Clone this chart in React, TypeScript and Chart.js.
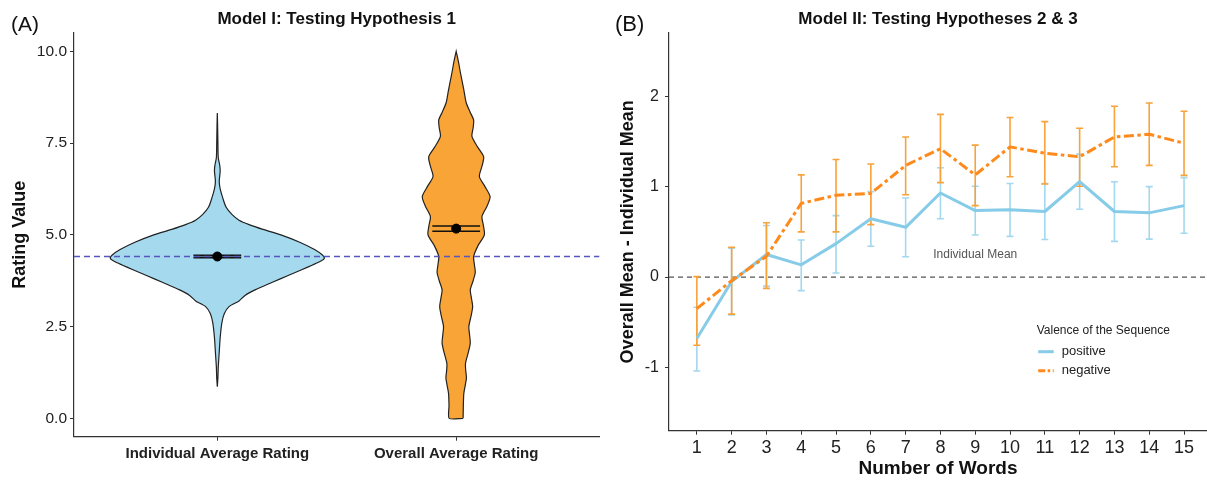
import React, { useEffect, useRef } from "react";
import { Chart, registerables } from "chart.js";

Chart.register(...registerables);

const FONT = "'Liberation Sans', Arial, Helvetica, sans-serif";
Chart.defaults.font.family = FONT;

// ---------------- Panel A data ----------------
const violinCategories = ["Individual Average Rating", "Overall Average Rating"];
const ratingTicks = [0, 2.5, 5, 7.5, 10];

const individualViolinY = [
  0.86, 1.1, 1.4, 1.8, 2.2, 2.6, 2.85, 3.05, 3.2, 3.35, 3.5, 3.7, 3.9, 4.05, 4.18,
  4.28, 4.36, 4.45, 4.6, 4.8, 5.0, 5.15, 5.28, 5.4, 5.55, 5.75, 6.0, 6.25, 6.45,
  6.6, 6.75, 6.9, 7.1, 7.5, 8.0, 8.32,
];
const individualViolinHalfWidth = [
  0, 0.0025, 0.004, 0.008, 0.012, 0.019, 0.029, 0.05, 0.091, 0.116, 0.158, 0.228,
  0.299, 0.353, 0.399, 0.432, 0.448, 0.44, 0.407, 0.345, 0.266, 0.191, 0.133, 0.091,
  0.062, 0.037, 0.023, 0.012, 0.008, 0.01, 0.012, 0.01, 0.004, 0.0025, 0.0012, 0,
];

const overallViolinY = [
  0.0, 0.35, 0.68, 0.9, 1.1, 1.3, 1.5, 1.78, 2.05, 2.28, 2.5, 2.78, 3.04, 3.27, 3.5,
  3.75, 3.98, 4.2, 4.41, 4.7, 5.0, 5.25, 5.5, 5.78, 6.04, 6.32, 6.59, 6.87, 7.13,
  7.42, 7.68, 7.92, 8.13, 8.35, 8.6, 8.95, 9.41, 9.7, 10.0,
];
const overallViolinHalfWidth = [
  0.029, 0.03, 0.032, 0.038, 0.043, 0.04, 0.039, 0.05, 0.059, 0.056, 0.053, 0.062,
  0.069, 0.064, 0.059, 0.071, 0.08, 0.076, 0.073, 0.091, 0.118, 0.114, 0.108, 0.129,
  0.142, 0.12, 0.097, 0.108, 0.115, 0.087, 0.066, 0.071, 0.073, 0.058, 0.042, 0.032,
  0.018, 0.01, 0,
];

const ratingMeans = [4.41, 5.17];
const ratingCiLow = [4.38, 5.1];
const ratingCiHigh = [4.44, 5.24];
const individualMeanRating = 4.41;

// ---------------- Panel B data ----------------
const wordCounts = [1, 2, 3, 4, 5, 6, 7, 8, 9, 10, 11, 12, 13, 14, 15];
const differenceTicks = [-1, 0, 1, 2];
const referenceDifference = 0;

const positiveMeans = [-0.68, -0.05, 0.25, 0.135, 0.37, 0.645, 0.55, 0.93, 0.735, 0.745, 0.725, 1.055, 0.725, 0.71, 0.79];
const positiveHigh = [-0.335, 0.32, 0.57, 0.41, 0.68, 0.945, 0.875, 1.21, 1.005, 1.035, 1.035, 1.36, 1.055, 1.0, 1.1];
const positiveLow = [-1.04, -0.42, -0.1, -0.15, 0.045, 0.34, 0.225, 0.645, 0.465, 0.45, 0.415, 0.75, 0.395, 0.42, 0.485];

const negativeMeans = [-0.35, -0.04, 0.23, 0.815, 0.905, 0.925, 1.235, 1.42, 1.13, 1.44, 1.37, 1.33, 1.55, 1.58, 1.48];
const negativeHigh = [0.005, 0.33, 0.6, 1.13, 1.3, 1.25, 1.55, 1.8, 1.46, 1.765, 1.72, 1.647, 1.89, 1.925, 1.835];
const negativeLow = [-0.755, -0.41, -0.125, 0.5, 0.5, 0.58, 0.91, 1.045, 0.79, 1.11, 1.03, 1.005, 1.22, 1.235, 1.125];

// ---------------- styles ----------------
const BLUE_FILL = "#A5D9EE";
const ORANGE_FILL = "#F8A436";
const BLUE_LINE = "#86CBE8";
const ORANGE_LINE = "#FF8A1C";
const BLUE_ERR = "#A3D8EE";
const ORANGE_ERR = "#F8A23A";
const NEG_DASH = [10, 3.5, 3.5, 3.5];

type Pt = { x: number; y: number | null };

function violinOutline(center: number, ys: number[], hw: number[]): Pt[] {
  const right = ys.map((y, i) => ({ x: center + hw[i], y }));
  const left = ys.map((y, i) => ({ x: center - hw[i], y })).reverse();
  const pts = [...right, ...left];
  pts.push({ ...pts[0] });
  return pts;
}

function errorBars(xs: number[], lo: number[], hi: number[], halfCap: number): Pt[] {
  const pts: Pt[] = [];
  xs.forEach((x, i) => {
    pts.push({ x, y: lo[i] }, { x, y: hi[i] }, { x, y: null });
    pts.push({ x: x - halfCap, y: hi[i] }, { x: x + halfCap, y: hi[i] }, { x, y: null });
    pts.push({ x: x - halfCap, y: lo[i] }, { x: x + halfCap, y: lo[i] }, { x, y: null });
  });
  return pts;
}

function buildChartA(): any {
  const xMin = 0.4;
  const xMax = 2.6;
  const annotations = {
    id: "panelAText",
    afterDraw(chart: any) {
      const { ctx, chartArea } = chart;
      ctx.save();
      ctx.fillStyle = "#111";
      ctx.textBaseline = "middle";
      ctx.textAlign = "left";
      ctx.font = `21px ${FONT}`;
      ctx.fillText("(A)", 11, 25);
      ctx.textAlign = "center";
      ctx.font = `bold 17px ${FONT}`;
      ctx.fillText("Model I: Testing Hypothesis 1", (chartArea.left + chartArea.right) / 2, 19);
      ctx.restore();
    },
  };
  return {
    type: "line",
    data: {
      datasets: [
        {
          label: "means",
          data: ratingMeans.map((m, i) => ({ x: i + 1, y: m })),
          showLine: false,
          pointRadius: 4.5,
          pointBackgroundColor: "#000",
          pointBorderColor: "#000",
          order: 0,
        },
        {
          label: "individual mean line",
          data: [
            { x: xMin, y: individualMeanRating },
            { x: xMax, y: individualMeanRating },
          ],
          borderColor: "#5656C0",
          borderWidth: 1.6,
          borderDash: [6, 4],
          pointRadius: 0,
          order: 1,
        },
        {
          label: "ci",
          data: errorBars([1, 2], ratingCiLow, ratingCiHigh, 0.1),
          borderColor: "#111",
          borderWidth: 1.6,
          pointRadius: 0,
          spanGaps: false,
          order: 2,
        },
        {
          label: "overall violin",
          data: violinOutline(2, overallViolinY, overallViolinHalfWidth),
          borderColor: "#222",
          borderWidth: 1.2,
          backgroundColor: ORANGE_FILL,
          fill: "shape",
          tension: 0.25,
          pointRadius: 0,
          order: 3,
        },
        {
          label: "individual violin",
          data: violinOutline(1, individualViolinY, individualViolinHalfWidth),
          borderColor: "#222",
          borderWidth: 1.2,
          backgroundColor: BLUE_FILL,
          fill: "shape",
          tension: 0.25,
          pointRadius: 0,
          order: 4,
        },
      ],
    },
    options: {
      animation: false,
      responsive: true,
      maintainAspectRatio: false,
      layout: { padding: { top: 33, right: 2, left: 0, bottom: 0 } },
      plugins: { legend: { display: false }, tooltip: { enabled: false } },
      scales: {
        x: {
          type: "linear",
          min: xMin,
          max: xMax,
          afterBuildTicks: (s: any) => {
            s.ticks = violinCategories.map((_, i) => ({ value: i + 1 }));
          },
          afterFit: (s: any) => {
            s.height = 48.3;
          },
          ticks: {
            autoSkip: false,
            maxRotation: 0,
            minRotation: 0,
            padding: 4,
            color: "#222",
            font: { size: 15, weight: "bold" },
            callback: (v: any) => violinCategories[Math.round(Number(v)) - 1] ?? "",
          },
          grid: { drawOnChartArea: false, drawTicks: true, tickLength: 4, color: "#333" },
          border: { display: true, color: "#333", width: 1.2 },
        },
        y: {
          type: "linear",
          min: -0.5,
          max: 10.5,
          afterBuildTicks: (s: any) => {
            s.ticks = ratingTicks.map((v) => ({ value: v }));
          },
          afterFit: (s: any) => {
            s.width = 74;
          },
          ticks: {
            padding: 3,
            color: "#222",
            font: { size: 15.5 },
            callback: (v: any) => Number(v).toFixed(1),
          },
          grid: { drawOnChartArea: false, drawTicks: true, tickLength: 4, color: "#333" },
          border: { display: true, color: "#333", width: 1.2 },
          title: {
            display: true,
            text: "Rating Value",
            color: "#111",
            font: { size: 18, weight: "bold" },
            padding: { top: 9, bottom: 0 },
          },
        },
      },
    },
    plugins: [annotations],
  };
}

function buildChartB(): any {
  const xMin = 0.2;
  const xMax = 15.66;
  const annotations = {
    id: "panelBText",
    afterDraw(chart: any) {
      const { ctx, chartArea, scales } = chart;
      ctx.save();
      ctx.fillStyle = "#111";
      ctx.textBaseline = "middle";
      ctx.textAlign = "left";
      ctx.font = `22px ${FONT}`;
      ctx.fillText("(B)", 10, 25);
      ctx.textAlign = "center";
      ctx.font = `bold 17px ${FONT}`;
      ctx.fillText("Model II: Testing Hypotheses 2 & 3", (chartArea.left + chartArea.right) / 2, 19);

      // reference label
      ctx.font = `12px ${FONT}`;
      ctx.fillStyle = "#555";
      ctx.fillText("Individual Mean", scales.x.getPixelForValue(9), scales.y.getPixelForValue(0.25));

      // legend
      const lx = chartArea.left + 367.7;
      const ly = chartArea.top + 297.7;
      ctx.textAlign = "left";
      ctx.fillStyle = "#222";
      ctx.font = `12px ${FONT}`;
      ctx.fillText("Valence of the Sequence", lx, ly);
      ctx.font = `13px ${FONT}`;
      ctx.fillText("positive", lx + 25, ly + 21);
      ctx.fillText("negative", lx + 25, ly + 40);
      ctx.lineWidth = 3;
      ctx.lineCap = "butt";
      ctx.strokeStyle = BLUE_LINE;
      ctx.beginPath();
      ctx.moveTo(lx + 1.5, ly + 21);
      ctx.lineTo(lx + 17, ly + 21);
      ctx.stroke();
      ctx.strokeStyle = ORANGE_LINE;
      ctx.setLineDash([7, 2.5, 2.5, 2.5]);
      ctx.beginPath();
      ctx.moveTo(lx + 1.5, ly + 40);
      ctx.lineTo(lx + 17, ly + 40);
      ctx.stroke();
      ctx.restore();
    },
  };
  return {
    type: "line",
    data: {
      datasets: [
        {
          label: "negative",
          data: wordCounts.map((w, i) => ({ x: w, y: negativeMeans[i] })),
          borderColor: ORANGE_LINE,
          borderWidth: 3,
          borderDash: NEG_DASH,
          borderJoinStyle: "round",
          pointRadius: 0,
          order: 0,
        },
        {
          label: "positive",
          data: wordCounts.map((w, i) => ({ x: w, y: positiveMeans[i] })),
          borderColor: BLUE_LINE,
          borderWidth: 3,
          borderJoinStyle: "round",
          pointRadius: 0,
          order: 1,
        },
        {
          label: "negative error",
          data: errorBars(wordCounts, negativeLow, negativeHigh, 0.1),
          borderColor: ORANGE_ERR,
          borderWidth: 1.6,
          pointRadius: 0,
          spanGaps: false,
          order: 2,
        },
        {
          label: "positive error",
          data: errorBars(wordCounts, positiveLow, positiveHigh, 0.1),
          borderColor: BLUE_ERR,
          borderWidth: 1.6,
          pointRadius: 0,
          spanGaps: false,
          order: 3,
        },
        {
          label: "reference",
          data: [
            { x: xMin, y: referenceDifference },
            { x: xMax, y: referenceDifference },
          ],
          borderColor: "#555",
          borderWidth: 1.2,
          borderDash: [5, 4],
          pointRadius: 0,
          order: 4,
        },
      ],
    },
    options: {
      animation: false,
      responsive: true,
      maintainAspectRatio: false,
      layout: { padding: { top: 33, right: 0, left: 0, bottom: 0 } },
      plugins: { legend: { display: false }, tooltip: { enabled: false } },
      scales: {
        x: {
          type: "linear",
          min: xMin,
          max: xMax,
          afterBuildTicks: (s: any) => {
            s.ticks = wordCounts.map((v) => ({ value: v }));
          },
          afterFit: (s: any) => {
            s.height = 54.3;
          },
          ticks: {
            autoSkip: false,
            maxRotation: 0,
            minRotation: 0,
            padding: 3,
            color: "#222",
            font: { size: 18 },
            callback: (v: any) => String(v),
          },
          grid: { drawOnChartArea: false, drawTicks: true, tickLength: 4, color: "#333" },
          border: { display: true, color: "#333", width: 1.2 },
          title: {
            display: true,
            text: "Number of Words",
            color: "#111",
            font: { size: 19, weight: "bold" },
            padding: { top: 0, bottom: 4.5 },
          },
        },
        y: {
          type: "linear",
          min: -1.7,
          max: 2.7,
          afterBuildTicks: (s: any) => {
            s.ticks = differenceTicks.map((v) => ({ value: v }));
          },
          afterFit: (s: any) => {
            s.width = 64;
          },
          ticks: {
            padding: 6,
            color: "#222",
            font: { size: 16 },
            callback: (v: any) => String(v),
          },
          grid: { drawOnChartArea: false, drawTicks: true, tickLength: 4, color: "#333" },
          border: { display: true, color: "#333", width: 1.2 },
          title: {
            display: true,
            text: "Overall Mean - Individual Mean",
            color: "#111",
            font: { size: 18, weight: "bold" },
            padding: { top: 12, bottom: 0 },
          },
        },
      },
    },
    plugins: [annotations],
  };
}

function ChartPanel({ build, left, width }: { build: () => any; left: number; width: number }) {
  const ref = useRef<HTMLCanvasElement | null>(null);
  useEffect(() => {
    if (!ref.current) return;
    const chart = new Chart(ref.current, build());
    return () => chart.destroy();
  }, [build]);
  return (
    <div style={{ position: "absolute", left, top: 0, width, height: 485 }}>
      <canvas ref={ref} />
    </div>
  );
}

export default function App() {
  return (
    <div
      style={{
        position: "fixed",
        left: 0,
        top: 0,
        width: 1207,
        height: 485,
        background: "#fff",
        overflow: "hidden",
      }}
    >
      <ChartPanel build={buildChartA} left={0} width={605} />
      <ChartPanel build={buildChartB} left={605} width={602} />
    </div>
  );
}
